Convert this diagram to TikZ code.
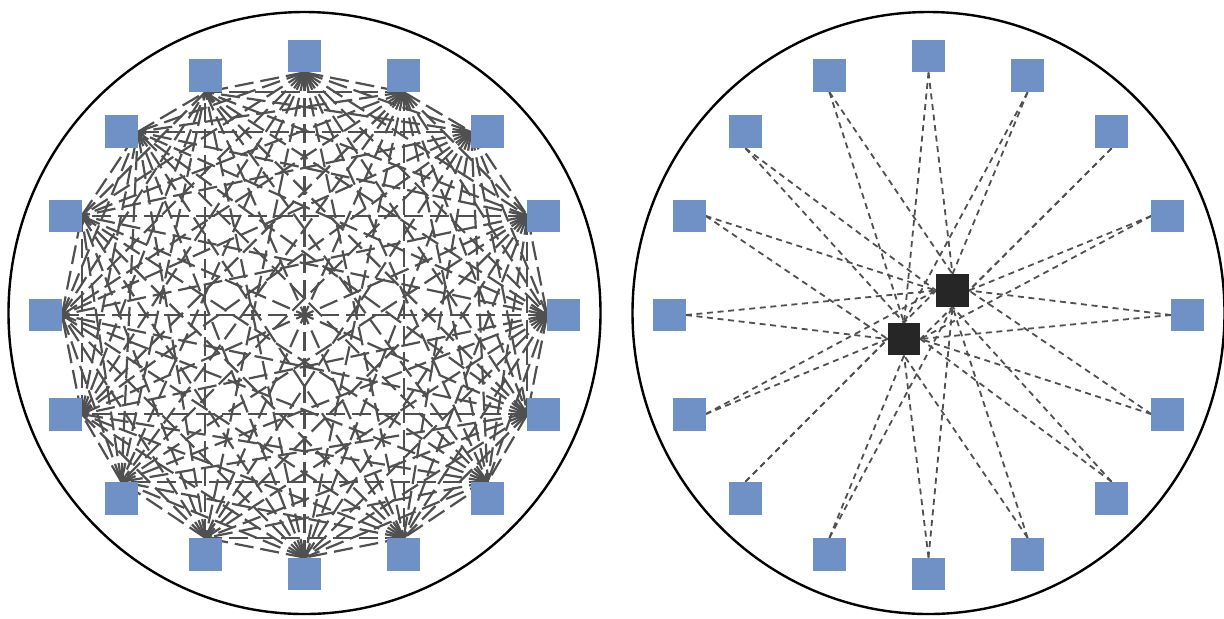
\documentclass[tikz,border=0pt]{standalone}
\definecolor{sqblue}{RGB}{112,145,198}
\definecolor{hubgray}{RGB}{38,38,38}
\definecolor{linegray}{RGB}{80,80,80}
\tikzset{
  sq/.style={rectangle, fill=sqblue, minimum size=16pt, inner sep=0pt, draw=none},
  hub/.style={sq, fill=hubgray},
  longdash/.style={draw=linegray, line width=1.1pt, dash pattern=on 9.5pt off 3.5pt},
  shortdash/.style={draw=linegray, line width=0.9pt, dash pattern=on 3pt off 2.3pt},
  rim/.style={draw=black, line width=1.2pt},
}
\begin{document}
\begin{tikzpicture}[x=0.5pt,y=-0.5pt]
\useasboundingbox (0,0) rectangle (1224,618);
% outer rims
\draw[rim] (304.5,313) ellipse [x radius=296, y radius=301];
\draw[rim] (928.5,313) ellipse [x radius=296, y radius=301];
% node positions
\foreach \k in {0,...,15}{
  \coordinate (PL\k) at ({304.5+259*sin(22.5*\k)},{315-259*cos(22.5*\k)});
  \coordinate (PR\k) at ({928.5+259*sin(22.5*\k)},{315-259*cos(22.5*\k)});
}
% left squares (placed as nodes first, lines drawn later on background order via layering)
\begin{scope}
\foreach \k in {0,...,15}{
  \node[sq] (L\k) at (PL\k) {};
  \node[sq] (R\k) at (PR\k) {};
}
\node[hub] (HU) at (952.5,290.5) {};
\node[hub] (HL) at (904,339) {};
\end{scope}
% left: complete graph
\foreach \i/\ai in {0/south,1/south,2/west,3/west,4/west,5/west,6/north,7/north,8/north,9/north,10/north,11/east,12/east,13/east,14/east,15/south}{
  \foreach \j/\aj in {0/south,1/south,2/west,3/west,4/west,5/west,6/north,7/north,8/north,9/north,10/north,11/east,12/east,13/east,14/east,15/south}{
    \ifnum\j>\i
      \draw[longdash] (L\i.\ai) -- (L\j.\aj);
    \fi
  }
}
% right: each outer node to both hubs
\foreach \k/\ak/\au/\al in {0/south/north/north,1/south/north/north,2/south/east/east,3/west/east/east,4/west/east/east,5/west/east/east,6/north/south/east,7/north/south/south,8/north/south/south,9/north/south/south,10/north/west/west,11/east/west/west,12/east/west/west,13/east/west/west,14/south/west/north,15/south/north/north}{
  \draw[shortdash] (R\k.\ak) -- (HU.\au);
  \draw[shortdash] (R\k.\ak) -- (HL.\al);
}
% redraw squares on top
\foreach \k in {0,...,15}{
  \fill[sqblue] (L\k.south west) rectangle (L\k.north east);
  \fill[sqblue] (R\k.south west) rectangle (R\k.north east);
}
\fill[hubgray] (HU.south west) rectangle (HU.north east);
\fill[hubgray] (HL.south west) rectangle (HL.north east);
\end{tikzpicture}
\end{document}
